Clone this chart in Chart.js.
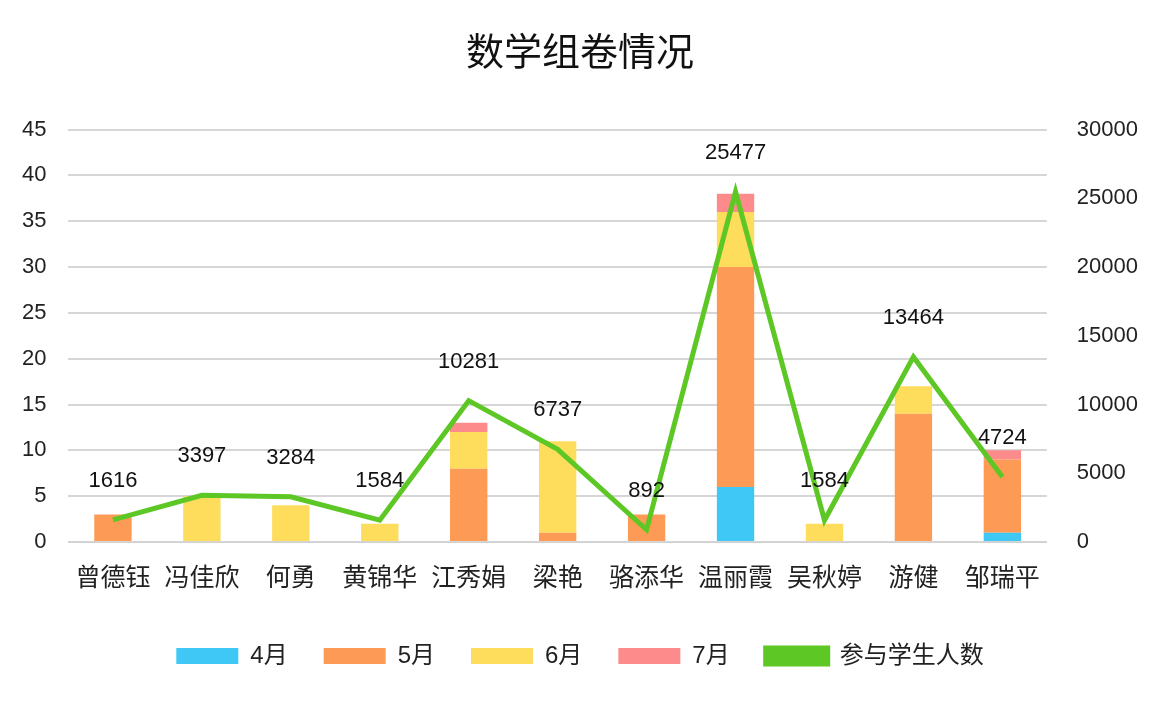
<!DOCTYPE html>
<html><head><meta charset="utf-8">
<script src="https://cdn.jsdelivr.net/npm/chart.js@4/dist/chart.umd.min.js"></script>
<style>body{margin:0;background:#fff}#wrap{width:1174px;height:704px}</style>
</head><body><div id="wrap"><canvas id="c"></canvas></div>
<script>
const teachers = ['曾德钰','冯佳欣','何勇','黄锦华','江秀娟','梁艳','骆添华','温丽霞','吴秋婷','游健','邹瑞平'];
const apr = [0,0,0,0,0,0,0,6,0,0,1];
const may = [3,0,0,0,8,1,3,24,0,14,8];
const jun = [0,5,4,2,4,10,0,6,2,3,0];
const jul = [0,0,0,0,1,0,0,2,0,0,1];
const students = [1616,3397,3284,1584,10281,6737,892,25477,1584,13464,4724];

const font = 'Arial, "Noto Sans CJK SC", sans-serif';

// values above line points
const lineLabels = {
  id: 'lineLabels',
  afterDatasetsDraw(chart) {
    const meta = chart.getDatasetMeta(4);
    const ctx = chart.ctx;
    ctx.save();
    ctx.font = '22px ' + font;
    ctx.fillStyle = '#111';
    ctx.textAlign = 'center';
    ctx.textBaseline = 'bottom';
    meta.data.forEach((p, i) => ctx.fillText(students[i], p.x, p.y - 28));
    ctx.restore();
  }
};

const bar = (label, data, color) => ({ type: 'bar', label, data, backgroundColor: color, yAxisID: 'y', stack: 's', order: 2, barPercentage: 0.42, categoryPercentage: 1 });

new Chart(document.getElementById('c'), {
  data: {
    labels: teachers,
    datasets: [
      bar('4月', apr, '#3fc8f6'),
      bar('5月', may, '#fd9a55'),
      bar('6月', jun, '#fedc5c'),
      bar('7月', jul, '#fd8b8b'),
      { type: 'line', label: '参与学生人数', data: students, borderColor: '#5dc825', backgroundColor: '#5dc825', borderWidth: 5, pointRadius: 0, tension: 0, yAxisID: 'y1', order: 1 }
    ]
  },
  options: {
    responsive: true,
    maintainAspectRatio: false,
    animation: false,
    layout: { padding: { left: 0, right: 14, top: 12, bottom: 26 } },
    scales: {
      x: {
        stacked: true,
        grid: { display: false },
        border: { color: '#d0d0d0' },
        ticks: { font: { size: 25, family: font }, color: '#222', maxRotation: 0, autoSkip: false, padding: 14 }
      },
      y: {
        stacked: true, min: 0, max: 45,
        ticks: { stepSize: 5, font: { size: 22, family: font }, color: '#222', padding: 22 },
        grid: { color: '#d6d6d6', lineWidth: 2, drawTicks: false },
        border: { display: false }
      },
      y1: {
        position: 'right', min: 0, max: 30000,
        ticks: { stepSize: 5000, font: { size: 22, family: font }, color: '#222', padding: 22, callback: v => String(v) },
        grid: { display: false },
        border: { display: false }
      }
    },
    plugins: {
      title: { display: true, text: '数学组卷情况', font: { size: 38, family: font, weight: 'normal' }, color: '#111', padding: { top: 20, bottom: 52 } },
      legend: {
        position: 'bottom',
        labels: { boxWidth: 62, boxHeight: 16, padding: 36, font: { size: 24, family: font }, color: '#222', sort: (a, b) => a.datasetIndex - b.datasetIndex }
      },
      tooltip: { enabled: false }
    }
  },
  plugins: [lineLabels]
});
</script></body></html>
